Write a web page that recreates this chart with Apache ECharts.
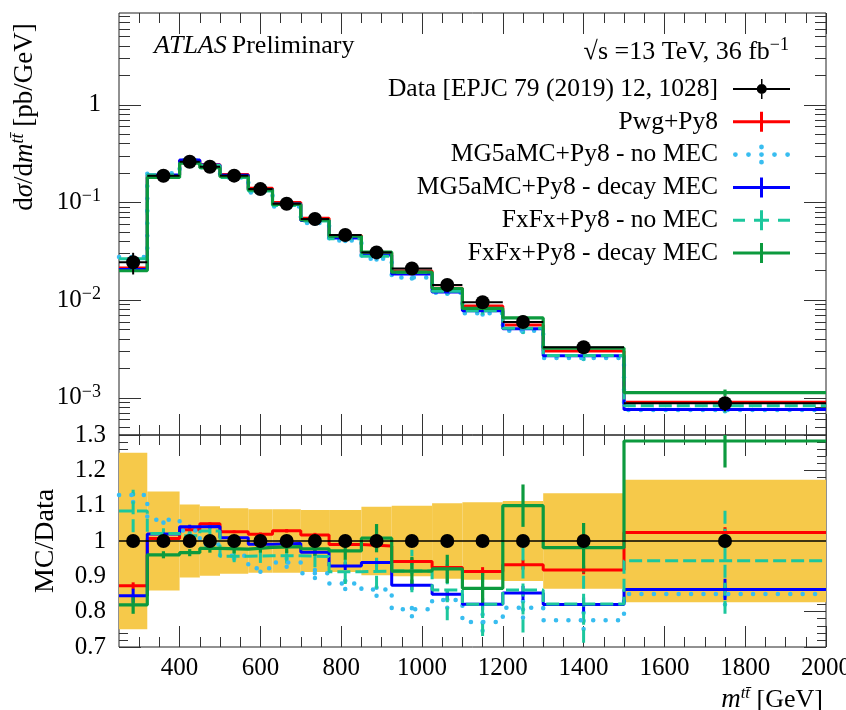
<!DOCTYPE html>
<html>
<head>
<meta charset="utf-8">
<script src="https://cdn.jsdelivr.net/npm/echarts@6/dist/echarts.min.js"></script>
<style>
html, body { margin: 0; padding: 0; background: #ffffff; }
#chart { width: 846px; height: 710px; }
</style>
</head>
<body>
<div id="chart"></div>
<script>
// ---- m(tt) binning [GeV] ----
const binEdges = [250, 320, 400, 450, 500, 570, 630, 700, 770, 850, 925, 1025, 1100, 1200, 1300, 1500, 2000];

// ---- Measured cross-section dsigma/dm(tt) [pb/GeV] and its relative uncertainty ----
const dataXsec   = [0.0244, 0.1876, 0.261, 0.232, 0.188, 0.137, 0.097, 0.0676, 0.0464, 0.0308, 0.0211, 0.01428, 0.0095, 0.00597, 0.00329, 0.00088];
const dataRelErr = [0.25, 0.14, 0.103, 0.098, 0.093, 0.09, 0.09, 0.088, 0.088, 0.097, 0.10, 0.107, 0.11, 0.113, 0.135, 0.173];

// ---- Predictions, as MC / Data ----
const ratioPwg        = [0.873, 1.007, 1.032, 1.049, 1.026, 1.019, 1.029, 1.017, 0.990, 0.986, 0.942, 0.925, 0.914, 0.933, 0.918, 1.024];
const ratioMgNoMec    = [1.130, 1.060, 1.030, 0.990, 0.958, 0.923, 0.939, 0.909, 0.880, 0.863, 0.807, 0.833, 0.771, 0.811, 0.776, 0.850];
const ratioMgDecayMec = [0.845, 1.020, 1.040, 1.041, 1.009, 0.991, 0.993, 0.968, 0.929, 0.939, 0.875, 0.849, 0.821, 0.853, 0.820, 0.863];
const ratioFxNoMec    = [1.085, 1.021, 1.015, 1.028, 0.957, 0.958, 0.958, 0.956, 0.913, 0.915, 0.915, 0.861, 0.821, 0.861, 0.822, 0.944];
const ratioFxDecayMec = [0.819, 0.961, 0.967, 0.979, 0.977, 0.982, 0.984, 0.978, 0.972, 1.008, 0.915, 0.921, 0.866, 1.100, 0.981, 1.283];

// ---- MC statistical uncertainties (relative) ----
const errPwg        = [0.010, 0.004, 0.004, 0.004, 0.004, 0.005, 0.005, 0.006, 0.007, 0.008, 0.009, 0.010, 0.012, 0.014, 0.012, 0.015];
const errMgNoMec    = [0.020, 0.008, 0.008, 0.008, 0.008, 0.010, 0.012, 0.014, 0.016, 0.018, 0.020, 0.022, 0.025, 0.028, 0.025, 0.030];
const errMgDecayMec = [0.020, 0.006, 0.006, 0.006, 0.006, 0.008, 0.009, 0.010, 0.011, 0.012, 0.014, 0.015, 0.017, 0.020, 0.020, 0.030];
const errFxNoMec    = [0.060, 0.015, 0.015, 0.017, 0.017, 0.020, 0.022, 0.030, 0.035, 0.050, 0.060, 0.085, 0.090, 0.120, 0.110, 0.150];
const errFxDecayMec = [0.025, 0.010, 0.010, 0.012, 0.012, 0.015, 0.018, 0.020, 0.025, 0.040, 0.040, 0.040, 0.045, 0.060, 0.070, 0.075];

// ---- Axis ticks and labels ----
const xMajorTicks = [400, 600, 800, 1000, 1200, 1400, 1600, 1800, 2000];
const logLabelTicks = [0.001, 0.01, 0.1, 1];
const ratioLabelTicks = [0.7, 0.8, 0.9, 1.0, 1.1, 1.2, 1.3];

const X_MIN = binEdges[0], X_MAX = binEdges[binEdges.length - 1];
const Y_MIN = 4.157e-4, Y_MAX = 8.70;
const R_MIN = 0.7, R_MAX = 1.3;

const FONT = '"Liberation Serif", "DejaVu Serif", serif';
const TICK_COLOR = '#333333';

// minor ticks: every 50 GeV, every 0.02 in the ratio, 2..9 per decade on the log axis
const xMinorTicks = [];
for (let v = 300; v < X_MAX; v += 50) xMinorTicks.push(v);
const ratioMinorTicks = [];
for (let k = 36; k < 65; k++) ratioMinorTicks.push(+(k * 0.02).toFixed(2));
const logMinorTicks = [];
for (let e = -4; e <= 0; e++) for (let m = 2; m <= 9; m++) {
  const v = m * Math.pow(10, e);
  if (v > Y_MIN && v < Y_MAX) logMinorTicks.push(v);
}

const MAJOR_LEN = 21, MINOR_LEN = 10;

function xAxisDef(grid, pos, ticks, len, withLabels) {
  const ax = {
    type: 'value', gridIndex: grid, position: pos, min: X_MIN, max: X_MAX,
    axisLine: { show: false, onZero: false },
    splitLine: { show: false },
    axisTick: { show: true, inside: true, length: len, customValues: ticks, lineStyle: { color: TICK_COLOR, width: 1 } },
    axisLabel: { show: false }
  };
  if (withLabels) {
    ax.axisLabel = {
      show: true, customValues: xMajorTicks, margin: 9,
      fontFamily: FONT, fontSize: 25, color: '#000',
      formatter: v => String(v)
    };
    ax.name = '{it|m}{sup|tt\u0304}{t| [GeV]}';
    ax.nameLocation = 'end';
    ax.nameGap = 0;
    ax.nameMoveOverlap = false;
    ax.nameTextStyle = {
      fontFamily: FONT, fontSize: 25, color: '#000', align: 'right', verticalAlign: 'middle',
      padding: [106, 3, 0, 0],
      rich: {
        it: { fontFamily: FONT, fontSize: 27, fontStyle: 'italic', lineHeight: 30 },
        sup: { fontFamily: FONT, fontSize: 17, fontStyle: 'italic', verticalAlign: 'top', lineHeight: 8 },
        t: { fontFamily: FONT, fontSize: 26, lineHeight: 30 }
      }
    };
  }
  return ax;
}

function logAxisDef(pos, ticks, len, withLabels) {
  const ax = {
    type: 'log', logBase: 10, gridIndex: 0, position: pos, min: Y_MIN, max: Y_MAX,
    axisLine: { show: false, onZero: false },
    splitLine: { show: false },
    axisTick: { show: true, inside: true, length: len, customValues: ticks, lineStyle: { color: TICK_COLOR, width: 1 } },
    axisLabel: { show: false }
  };
  if (withLabels) {
    ax.axisLabel = {
      show: true, customValues: logLabelTicks, margin: 18, color: '#000',
      formatter: v => v >= 0.5 ? '{b|1}' : '{b|10}{s|\u2212' + Math.round(-Math.log10(v)) + '}',
      rich: {
        b: { fontFamily: FONT, fontSize: 25, lineHeight: 30, color: '#000' },
        s: { fontFamily: FONT, fontSize: 18, lineHeight: 8, verticalAlign: 'top', color: '#000' }
      }
    };
    ax.name = '{t|d}{it|\u03c3}{t|/d}{it|m}{sup|tt\u0304}{t| [pb/GeV]}';
    ax.nameLocation = 'middle';
    ax.nameRotate = 90;
    ax.nameGap = 78;
    ax.nameMoveOverlap = false;
    ax.nameTextStyle = {
      fontFamily: FONT, fontSize: 27, color: '#000', padding: [0, 0, 0, 214],
      rich: {
        t: { fontFamily: FONT, fontSize: 27, lineHeight: 32 },
        it: { fontFamily: FONT, fontSize: 27, fontStyle: 'italic', lineHeight: 32 },
        sup: { fontFamily: FONT, fontSize: 18, fontStyle: 'italic', verticalAlign: 'top', lineHeight: 8 }
      }
    };
  }
  return ax;
}

function ratioAxisDef(pos, ticks, len, withLabels) {
  const ax = {
    type: 'value', gridIndex: 1, position: pos, min: R_MIN, max: R_MAX,
    axisLine: { show: false, onZero: false },
    splitLine: { show: false },
    axisTick: { show: true, inside: true, length: len, customValues: ticks, lineStyle: { color: TICK_COLOR, width: 1 } },
    axisLabel: { show: false }
  };
  if (withLabels) {
    ax.axisLabel = {
      show: true, customValues: ratioLabelTicks, margin: 13,
      fontFamily: FONT, fontSize: 25, color: '#000',
      formatter: v => String(Math.round(v * 10) / 10)
    };
    ax.name = 'MC/Data';
    ax.nameLocation = 'middle';
    ax.nameRotate = 90;
    ax.nameGap = 59;
    ax.nameMoveOverlap = false;
    ax.nameTextStyle = { fontFamily: FONT, fontSize: 28, color: '#000' };
  }
  return ax;
}

const xAxes = [
  xAxisDef(0, 'bottom', xMajorTicks, MAJOR_LEN, false),  // 0: top panel, used by series
  xAxisDef(0, 'bottom', xMinorTicks, MINOR_LEN, false),
  xAxisDef(0, 'top', xMajorTicks, MAJOR_LEN, false),
  xAxisDef(0, 'top', xMinorTicks, MINOR_LEN, false),
  xAxisDef(1, 'bottom', xMajorTicks, MAJOR_LEN, true),   // 4: ratio panel, used by series
  xAxisDef(1, 'bottom', xMinorTicks, MINOR_LEN, false),
  xAxisDef(1, 'top', xMajorTicks, MAJOR_LEN, false),
  xAxisDef(1, 'top', xMinorTicks, MINOR_LEN, false)
];
const yAxes = [
  logAxisDef('left', logLabelTicks, MAJOR_LEN + 1, true),  // 0: top panel, used by series
  logAxisDef('left', logMinorTicks, MINOR_LEN + 1, false),
  logAxisDef('right', logLabelTicks, MAJOR_LEN + 1, false),
  logAxisDef('right', logMinorTicks, MINOR_LEN + 1, false),
  ratioAxisDef('left', ratioLabelTicks, MAJOR_LEN + 1, true), // 4: ratio panel, used by series
  ratioAxisDef('left', ratioMinorTicks, MINOR_LEN - 1, false),
  ratioAxisDef('right', ratioLabelTicks, MAJOR_LEN + 1, false),
  ratioAxisDef('right', ratioMinorTicks, MINOR_LEN - 1, false)
];

// ---- helpers ----
const binCenter = i => (binEdges[i] + binEdges[i + 1]) / 2;
const stepData = vals => binEdges.map((e, i) => [e, vals[Math.min(i, vals.length - 1)]]);

function errorBarSeries(name, rows, xIdx, yIdx, color, width, dash, cap) {
  return {
    type: 'custom', name: name, xAxisIndex: xIdx, yAxisIndex: yIdx, clip: true, silent: true,
    data: rows,
    renderItem: (params, api) => {
      const a = api.coord([api.value(0), api.value(1)]);
      const b = api.coord([api.value(0), api.value(2)]);
      return {
        type: 'line',
        shape: { x1: a[0], y1: a[1], x2: b[0], y2: b[1] },
        style: { stroke: color, lineWidth: width, lineDash: dash, lineCap: cap || 'butt', fill: null }
      };
    }
  };
}

function stepSeries(name, vals, xIdx, yIdx, color, width, dash, cap, z) {
  return {
    type: 'line', name: name, xAxisIndex: xIdx, yAxisIndex: yIdx, step: 'end',
    data: stepData(vals), showSymbol: false, symbol: 'none', silent: true, clip: true,
    lineStyle: { color: color, width: width, type: dash, cap: cap || 'butt' },
    z: z || 2
  };
}

const mcSets = [
  { name: 'Pwg+Py8', ratio: ratioPwg, err: errPwg, color: '#ff0000', width: 3, dash: 'solid' },
  { name: 'MG5aMC+Py8 - no MEC', ratio: ratioMgNoMec, err: errMgNoMec, color: '#38bdf0', width: 4.5, dash: [0.1, 12.3], cap: 'round', barDash: [0.1, 8] },
  { name: 'MG5aMC+Py8 - decay MEC', ratio: ratioMgDecayMec, err: errMgDecayMec, color: '#0000ff', width: 3, dash: 'solid' },
  { name: 'FxFx+Py8 - no MEC', ratio: ratioFxNoMec, err: errFxNoMec, color: '#1cc79d', width: 3, dash: [13, 5], barDash: [13, 5] },
  { name: 'FxFx+Py8 - decay MEC', ratio: ratioFxDecayMec, err: errFxDecayMec, color: '#0c9a3e', width: 3.2, dash: 'solid' }
];

const series = [];

// data uncertainty band in the ratio panel
series.push({
  type: 'custom', name: 'Data uncertainty', xAxisIndex: 4, yAxisIndex: 4, clip: true, silent: true,
  data: dataRelErr.map((e, i) => [binEdges[i], binEdges[i + 1], 1 - e, 1 + e]),
  renderItem: (params, api) => {
    const p0 = api.coord([api.value(0), api.value(3)]);
    const p1 = api.coord([api.value(1), api.value(2)]);
    return {
      type: 'rect',
      shape: { x: p0[0], y: p0[1], width: p1[0] - p0[0], height: p1[1] - p0[1] },
      style: { fill: '#f6c94a', stroke: null }
    };
  },
  z: 1
});

// predictions: top panel (cross-section) and ratio panel
mcSets.forEach(s => {
  const xsec = dataXsec.map((d, i) => d * s.ratio[i]);
  series.push(stepSeries(s.name, xsec, 0, 0, s.color, s.width, s.dash, s.cap));
  series.push(errorBarSeries(s.name, xsec.map((v, i) => [binCenter(i), v * (1 - s.err[i]), v * (1 + s.err[i])]),
    0, 0, s.color, s.width, s.barDash || null, s.cap));
  series.push(stepSeries(s.name, s.ratio, 4, 4, s.color, s.width, s.dash, s.cap));
  series.push(errorBarSeries(s.name, s.ratio.map((r, i) => [binCenter(i), r - s.err[i], r + s.err[i]]),
    4, 4, s.color, s.width, s.barDash || null, s.cap));
});

// data: top panel
const DATA_NAME = 'Data [EPJC 79 (2019) 12, 1028]';
series.push({
  type: 'custom', name: DATA_NAME, xAxisIndex: 0, yAxisIndex: 0, clip: true, silent: true,
  data: dataXsec.map((v, i) => [binEdges[i], binEdges[i + 1], v, v * (1 - dataRelErr[i]), v * (1 + dataRelErr[i])]),
  renderItem: (params, api) => {
    const lo = api.value(0), hi = api.value(1), v = api.value(2);
    const c = (lo + hi) / 2;
    const a = api.coord([lo, v]), b = api.coord([hi, v]);
    const d = api.coord([c, api.value(3)]), u = api.coord([c, api.value(4)]);
    return {
      type: 'group',
      children: [
        { type: 'line', shape: { x1: a[0], y1: a[1], x2: b[0], y2: b[1] }, style: { stroke: '#000', lineWidth: 2 } },
        { type: 'line', shape: { x1: d[0], y1: d[1], x2: u[0], y2: u[1] }, style: { stroke: '#000', lineWidth: 2 } }
      ]
    };
  },
  z: 5
});
series.push({
  type: 'scatter', name: DATA_NAME, xAxisIndex: 0, yAxisIndex: 0, silent: true,
  data: dataXsec.map((v, i) => [binCenter(i), v]),
  symbol: 'circle', symbolSize: 14, itemStyle: { color: '#000', opacity: 1 }, z: 6
});

// data: ratio panel (data / data)
series.push(stepSeries(DATA_NAME, dataXsec.map(v => v / v), 4, 4, '#000', 1.6, 'solid', 'butt', 5));
series.push({
  type: 'scatter', name: DATA_NAME, xAxisIndex: 4, yAxisIndex: 4, silent: true,
  data: dataXsec.map((v, i) => [binCenter(i), v / v]),
  symbol: 'circle', symbolSize: 14, itemStyle: { color: '#000', opacity: 1 }, z: 6
});

// ---- legend icons (57 x 20 boxes) ----
const dot = (cx, cy, r) => `M${cx - r},${cy}A${r},${r},0,1,1,${cx + r},${cy}A${r},${r},0,1,1,${cx - r},${cy}Z`;
const iconData = 'path://M0,9H57V11H0Z M28,0H29.5V20H28Z ' + dot(28.75, 10, 5);
const iconSolid = 'path://M0,8.5H57V11.5H0Z M27,0H30V20H27Z';
const iconDotted = 'path://' + [dot(2.4, 10, 2.4), dot(15.5, 10, 2.4), dot(41.5, 10, 2.4), dot(54.6, 10, 2.4),
  dot(28.5, 2.4, 2.4), dot(28.5, 10, 2.4), dot(28.5, 17.6, 2.4)].join(' ');
const iconDashed = 'path://M0,8.5H12V11.5H0Z M21,8.5H36V11.5H21Z M45,8.5H57V11.5H45Z M27,0H30V20H27Z';
const legendIcons = [iconSolid, iconDotted, iconSolid, iconDashed, iconSolid];

const legendData = [{ name: DATA_NAME, icon: iconData, itemStyle: { color: '#000', borderWidth: 0 } }]
  .concat(mcSets.map((s, i) => ({ name: s.name, icon: legendIcons[i], itemStyle: { color: s.color, borderWidth: 0 } })));

const option = {
  animation: false,
  backgroundColor: '#ffffff',
  grid: [
    { left: 119, right: 20, top: 13, height: 422, show: true, borderColor: '#222', borderWidth: 1, backgroundColor: 'transparent', containLabel: false, outerBoundsMode: 'none' },
    { left: 119, right: 20, top: 435, height: 212, show: true, borderColor: '#222', borderWidth: 1, backgroundColor: 'transparent', containLabel: false, outerBoundsMode: 'none' }
  ],
  xAxis: xAxes,
  yAxis: yAxes,
  legend: {
    orient: 'vertical', align: 'right', right: 56, top: 76, padding: 0,
    itemWidth: 57, itemHeight: 20, itemGap: 6.8, selectedMode: false,
    textStyle: { fontFamily: FONT, fontSize: 25.5, color: '#000', padding: [0, 10, 0, 0] },
    data: legendData
  },
  title: [
    {
      text: '{i|ATLAS} {t|Preliminary}', left: 154, top: 33, padding: 0,
      textStyle: {
        fontWeight: 'normal',
        rich: {
          i: { fontFamily: FONT, fontSize: 26, fontStyle: 'italic', fontWeight: 'normal', color: '#000' },
          t: { fontFamily: FONT, fontSize: 26, fontWeight: 'normal', color: '#000' }
        }
      }
    },
    {
      text: '{t|\u221as =13 TeV, 36 fb}{s|\u22121}', right: 57, top: 36, padding: 0,
      textStyle: {
        fontWeight: 'normal',
        rich: {
          t: { fontFamily: FONT, fontSize: 26, fontWeight: 'normal', color: '#000', lineHeight: 32 },
          s: { fontFamily: FONT, fontSize: 18, fontWeight: 'normal', color: '#000', lineHeight: 8, verticalAlign: 'top' }
        }
      }
    }
  ],
  series: series
};

const chart = echarts.init(document.getElementById('chart'), null, { renderer: 'canvas' });
chart.setOption(option);
</script>
</body>
</html>
